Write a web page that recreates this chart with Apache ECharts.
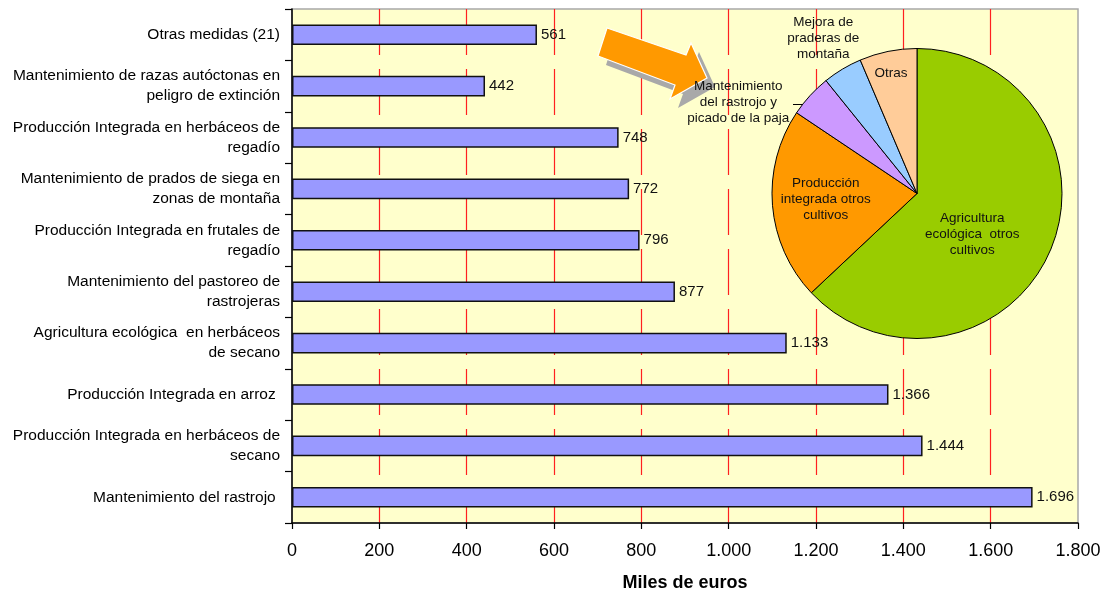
<!DOCTYPE html>
<html>
<head>
<meta charset="utf-8">
<script src="https://cdn.jsdelivr.net/npm/echarts@6/dist/echarts.min.js"></script>
<style>
html,body{margin:0;padding:0;background:#fff;}
#c{width:1108px;height:597px;}
</style>
</head>
<body>
<div id="c"></div>
<script>
// Bar chart data (top to bottom)
var categories = [
  'Otras medidas (21)',
  'Mantenimiento de razas autóctonas en\npeligro de extinción',
  'Producción Integrada en herbáceos de\nregadío',
  'Mantenimiento de prados de siega en\nzonas de montaña',
  'Producción Integrada en frutales de\nregadío',
  'Mantenimiento del pastoreo de\nrastrojeras',
  'Agricultura ecológica  en herbáceos\nde secano',
  'Producción Integrada en arroz ',
  'Producción Integrada en herbáceos de\nsecano',
  'Mantenimiento del rastrojo '
];
var barValues = [561, 442, 748, 772, 796, 877, 1133, 1366, 1444, 1696];
var xTicks = [0, 200, 400, 600, 800, 1000, 1200, 1400, 1600, 1800];
var xAxisTitle = 'Miles de euros';

// Pie data (share of "Otras medidas", %)
var pieNames = [
  'Agricultura\necológica  otros\ncultivos',
  'Producción\nintegrada otros\ncultivos',
  'Mantenimiento\ndel rastrojo y\npicado de la paja',
  'Mejora de\npraderas de\nmontaña',
  'Otras'
];
var pieValues = [63.0, 21.4, 4.8, 4.4, 6.4];
var pieColors = ['#99CC00', '#FF9900', '#CC99FF', '#99CCFF', '#FFCC99'];

function fmt(v) {
  return String(v).replace(/\B(?=(\d{3})+(?!\d))/g, '.');
}

var FONT = 'Liberation Sans, Arial, sans-serif';
var chart = echarts.init(document.getElementById('c'), null, {renderer: 'canvas'});

// label nudges for pie labels (style only)
var pieLabelShift = [[-14, 11], [-16, 0], [-123, -40], [-55, -90], [-11, -46]];

// split line colours: hide the first (under y axis) and last (under plot border)
var splitColors = xTicks.map(function (t, i) {
  return (i === 0 || i === xTicks.length - 1) ? 'rgba(0,0,0,0)' : '#FF2020';
});

var option = {
  animation: false,
  backgroundColor: '#ffffff',
  grid: {
    left: 292, right: 30, top: 9, bottom: 74,
    containLabel: false,
    outerBoundsMode: 'none',
    show: true,
    backgroundColor: '#FFFFCC',
    borderColor: '#A8A8A8',
    borderWidth: 1.5
  },
  xAxis: {
    type: 'value',
    min: xTicks[0],
    max: xTicks[xTicks.length - 1],
    interval: xTicks[1] - xTicks[0],
    z: 0,
    axisLine: {show: true, lineStyle: {color: '#000', width: 1.5}},
    axisTick: {show: true, length: 6, lineStyle: {color: '#000', width: 1.2}},
    axisLabel: {
      color: '#000', fontSize: 18, fontFamily: FONT, margin: 19,
      formatter: function (v) { return fmt(v); }
    },
    splitLine: {show: true, lineStyle: {color: splitColors, width: 1.2, type: [46, 14]}},
    name: xAxisTitle,
    nameLocation: 'middle',
    nameGap: 51,
    nameTextStyle: {color: '#000', fontSize: 18, fontWeight: 'bold', fontFamily: FONT}
  },
  yAxis: {
    type: 'category',
    inverse: true,
    data: categories,
    z: 1,
    axisLine: {show: true, lineStyle: {color: '#000', width: 1.5}},
    axisTick: {show: true, length: 7, alignWithLabel: false, lineStyle: {color: '#000', width: 1.2}},
    axisLabel: {
      color: '#000', fontSize: 15.5, lineHeight: 20, fontFamily: FONT, margin: 12, align: 'right'
    },
    splitLine: {show: false}
  },
  graphic: [
    {
      type: 'polygon', z: 1,
      shape: {points: [[615, 37], [694, 64], [699, 52], [715, 87], [678, 108], [683, 94], [606, 65]]},
      style: {fill: '#A9A9A9', stroke: null}
    },
    {
      type: 'polygon', z: 1,
      shape: {points: [[607, 28], [686, 55], [691, 43], [707, 78], [670, 99], [675, 85], [598, 56]]},
      style: {fill: '#FF9900', stroke: '#ffffff', lineWidth: 1.2}
    },
    {
      type: 'line', z: 3,
      shape: {x1: 793, y1: 104.5, x2: 802, y2: 104.5},
      style: {stroke: '#000', lineWidth: 1}
    }
  ],
  series: [
    {
      type: 'bar',
      data: barValues,
      barWidth: '40%',
      itemStyle: {color: '#9999FF', borderColor: '#111', borderWidth: 1.5},
      label: {
        show: true, position: 'right', distance: 4,
        color: '#111', fontSize: 15, fontFamily: FONT,
        formatter: function (p) { return fmt(p.value); }
      }
    },
    {
      type: 'pie',
      center: [917, 193.5],
      radius: 145,
      startAngle: 90,
      clockwise: true,
      z: 3,
      data: pieNames.map(function (n, i) {
        return {name: n, value: pieValues[i], itemStyle: {color: pieColors[i]}};
      }),
      itemStyle: {borderColor: '#000', borderWidth: 1},
      label: {
        show: true, position: 'inside',
        color: '#111', fontSize: 13.5, lineHeight: 16, fontFamily: FONT,
        align: 'center',
        formatter: '{b}'
      },
      labelLine: {show: false},
      labelLayout: function (params) {
        var s = pieLabelShift[params.dataIndex];
        return {dx: s[0], dy: s[1]};
      },
      emphasis: {disabled: true}
    }
  ]
};
chart.setOption(option);
</script>
</body>
</html>
